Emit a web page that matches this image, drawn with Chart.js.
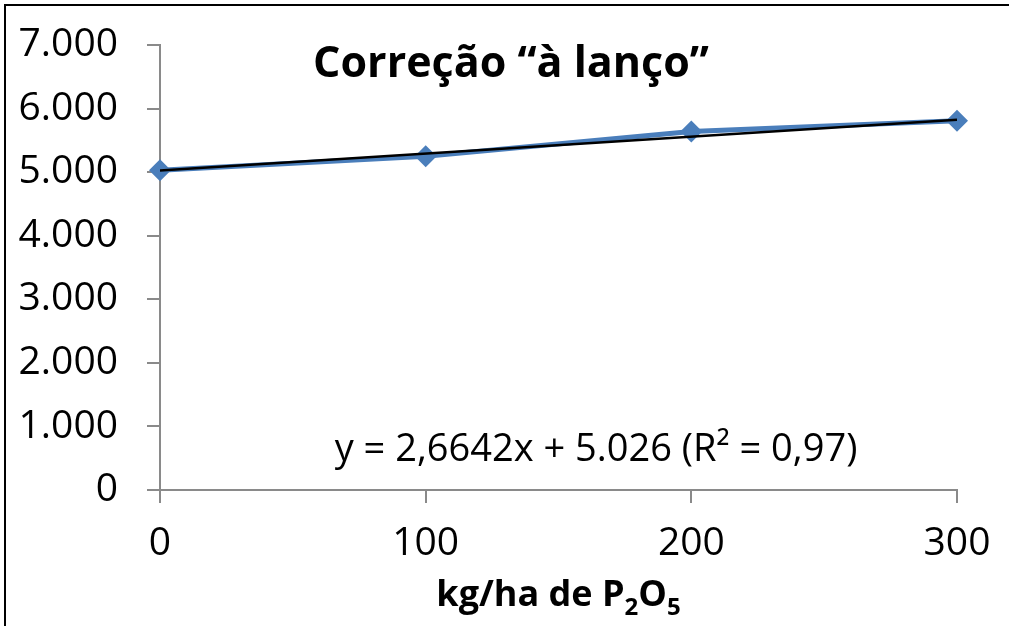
<!DOCTYPE html>
<html lang="pt-BR">
<head>
<meta charset="utf-8">
<title>Correção “à lanço”</title>
<script src="https://cdn.jsdelivr.net/npm/chart.js@4.4.1/dist/chart.umd.min.js"></script>
<style>
  html, body { margin: 0; padding: 0; background: #ffffff; }
  #wrap { width: 1009px; height: 626px; position: relative; }
</style>
</head>
<body>
<div id="wrap"><canvas id="chart" width="1009" height="626"></canvas></div>
<script>
// Doses de P2O5 (kg/ha) e produtividade observada
const doses = [0, 100, 200, 300];
const produtividade = [5030, 5250, 5640, 5810];

// Linha de tendência: y = a·x + b
const trendSlope = 2.6642;
const trendIntercept = 5026;
const trendR2 = 0.97;

const yTicks = [0, 1000, 2000, 3000, 4000, 5000, 6000, 7000];
const xTicks = [0, 100, 200, 300];

const chartTitle = 'Correção “à lanço”';
const xTitleParts = [
  { text: 'kg/ha de P', sub: false },
  { text: '2', sub: true },
  { text: 'O', sub: false },
  { text: '5', sub: true }
];

const FONT = '"Open Sans", "Liberation Sans", sans-serif';
const AXIS_GREY = '#8a8a8a';
const SERIES_BLUE = '#4a7ebb';

// Número com ponto como separador de milhar e vírgula decimal
function fmtBR(v, decimals) {
  const fixed = decimals ? v.toFixed(decimals) : String(Math.round(v));
  const parts = fixed.split('.');
  parts[0] = parts[0].replace(/\B(?=(\d{3})+(?!\d))/g, '.');
  return parts.length > 1 ? parts[0] + ',' + parts[1] : parts[0];
}

const points = doses.map((d, i) => ({ x: d, y: produtividade[i] }));
const trendPoints = [doses[0], doses[doses.length - 1]].map(d => ({ x: d, y: trendSlope * d + trendIntercept }));
const equationText = 'y = ' + fmtBR(trendSlope, 4) + 'x + ' + fmtBR(trendIntercept) + ' (R² = ' + fmtBR(trendR2, 2) + ')';

// Moldura, título, equação e título do eixo X
const decorations = {
  id: 'decorations',
  beforeDraw(chart) {
    const ctx = chart.ctx;
    ctx.save();
    ctx.fillStyle = '#ffffff';
    ctx.fillRect(0, 0, chart.width, chart.height);
    ctx.strokeStyle = '#000000';
    ctx.lineWidth = 2;
    ctx.beginPath();
    ctx.moveTo(5, chart.height + 10);
    ctx.lineTo(5, 5);
    ctx.lineTo(chart.width + 10, 5);
    ctx.stroke();
    ctx.restore();
  },
  afterDraw(chart) {
    const ctx = chart.ctx;
    const area = chart.chartArea;
    ctx.save();
    ctx.fillStyle = '#000000';

    // título
    ctx.font = 'bold 43px ' + FONT;
    ctx.textAlign = 'center';
    ctx.textBaseline = 'alphabetic';
    ctx.fillText(chartTitle, 511, 77);

    // equação da tendência
    ctx.font = '38px ' + FONT;
    ctx.fillText(equationText, 596, 461);

    // título do eixo X com subscritos
    const mainFont = 'bold 36px ' + FONT;
    const subFont = 'bold 24px ' + FONT;
    let total = 0;
    xTitleParts.forEach(p => {
      ctx.font = p.sub ? subFont : mainFont;
      p.w = ctx.measureText(p.text).width;
      total += p.w;
    });
    let x = (area.left + area.right) / 2 - total / 2;
    const base = 606;
    ctx.textAlign = 'left';
    xTitleParts.forEach(p => {
      ctx.font = p.sub ? subFont : mainFont;
      ctx.fillText(p.text, x, p.sub ? base + 9 : base);
      x += p.w;
    });
    ctx.restore();
  }
};

new Chart(document.getElementById('chart'), {
  type: 'line',
  data: {
    datasets: [
      {
        label: 'Tendência linear',
        data: trendPoints,
        borderColor: '#000000',
        borderWidth: 2.5,
        pointRadius: 0,
        fill: false,
        order: 0
      },
      {
        label: 'Produtividade',
        data: points,
        borderColor: SERIES_BLUE,
        backgroundColor: SERIES_BLUE,
        borderWidth: 5,
        pointStyle: 'rectRot',
        pointRadius: 11,
        pointBorderWidth: 0,
        pointBackgroundColor: SERIES_BLUE,
        fill: false,
        tension: 0,
        clip: false,
        order: 1
      }
    ]
  },
  options: {
    responsive: false,
    animation: false,
    devicePixelRatio: 1,
    layout: { padding: { left: 0, top: 45, right: 52, bottom: 0 } },
    plugins: {
      legend: { display: false },
      title: { display: false },
      tooltip: { enabled: false }
    },
    scales: {
      x: {
        type: 'linear',
        min: xTicks[0],
        max: xTicks[xTicks.length - 1],
        afterBuildTicks(scale) { scale.ticks = xTicks.map(v => ({ value: v })); },
        afterFit(scale) { scale.height = 136; scale.paddingLeft = 0; scale.paddingRight = 0; },
        border: { display: true, color: AXIS_GREY, width: 2 },
        grid: { display: true, drawOnChartArea: false, drawTicks: true, tickLength: 13, color: AXIS_GREY, lineWidth: 2 },
        ticks: {
          color: '#000000',
          font: { family: FONT, size: 39 },
          padding: 17,
          maxRotation: 0,
          callback: v => fmtBR(v)
        }
      },
      y: {
        type: 'linear',
        min: yTicks[0],
        max: yTicks[yTicks.length - 1],
        afterBuildTicks(scale) { scale.ticks = yTicks.map(v => ({ value: v })); },
        afterFit(scale) { scale.width = 160; scale.paddingTop = 0; scale.paddingBottom = 0; },
        border: { display: true, color: AXIS_GREY, width: 2 },
        grid: { display: true, drawOnChartArea: false, drawTicks: true, tickLength: 13, color: AXIS_GREY, lineWidth: 2 },
        ticks: {
          color: '#000000',
          font: { family: FONT, size: 39 },
          padding: 29,
          callback: v => fmtBR(v)
        }
      }
    }
  },
  plugins: [decorations]
});
</script>
</body>
</html>
